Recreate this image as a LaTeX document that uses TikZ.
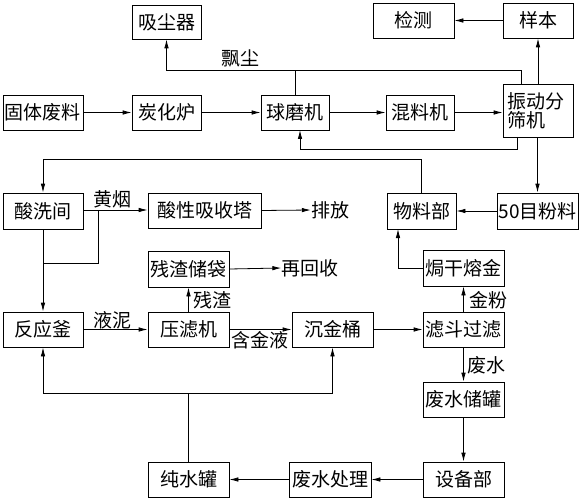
\documentclass[tikz,border=0pt]{standalone}
\usepackage{fontspec}
\setmainfont{Noto Sans CJK SC}
\usetikzlibrary{arrows.meta}
\begin{document}
\begin{tikzpicture}[x=1pt,y=-1pt,
  every node/.style={font=\fontsize{19}{22}\selectfont},
  box/.style={draw, line width=0.8pt, inner sep=0pt, minimum height=35pt},
  lbl/.style={inner sep=0pt},
  conn/.style={line width=0.8pt},
  arr/.style={conn, -{Latex[length=9pt,width=4.5pt]}}]
\useasboundingbox (0,0) rectangle (581,500);
% nodes
\node[box, minimum width=69pt, minimum height=34pt] (xc) at (166.5,22) {吸尘器};
\node[box, minimum width=81pt] (jc) at (413.5,20.5) {检测};
\node[box, minimum width=70pt] (yb) at (538,20.5) {样本};
\node[box, minimum width=80pt] (gt) at (43,112.5) {固体废料};
\node[box, minimum width=69pt] (th) at (166.5,112.5) {炭化炉};
\node[box, minimum width=68pt] (qm) at (295,112.5) {球磨机};
\node[box, minimum width=68pt] (hl) at (420,112.5) {混料机};
\node[box, minimum width=70pt, minimum height=53pt, align=left, text width=62pt] (zd) at (538,110.5) {振动分\\[-3pt]筛机};
\node[box, minimum width=80pt, minimum height=36pt] (sx) at (43,211) {酸洗间};
\node[box, minimum width=113pt] (sxt) at (204.5,210.5) {酸性吸收塔};
\node[lbl] (pf) at (330,210) {排放};
\node[box, minimum width=69pt, minimum height=36pt] (wl) at (421.5,211) {物料部};
\node[box, minimum width=81pt, minimum height=36pt] (mf) at (537.5,211) {50目粉料};
\node[box, minimum width=81pt, minimum height=36pt] (cz) at (188.5,269) {残渣储袋};
\node[lbl] (zh) at (310,268) {再回收};
\node[box, minimum width=81pt, minimum height=36pt] (hg) at (463.5,268) {焗干熔金};
\node[box, minimum width=80pt] (fy) at (43,329.5) {反应釜};
\node[box, minimum width=81pt] (yl) at (188.5,329.5) {压滤机};
\node[box, minimum width=81pt] (cj) at (332.5,329.5) {沉金桶};
\node[box, minimum width=81pt] (ld) at (463.5,329.5) {滤斗过滤};
\node[box, minimum width=81pt] (fs) at (463.5,399.5) {废水储罐};
\node[box, minimum width=81pt] (cs) at (188.5,479.5) {纯水罐};
\node[box, minimum width=82pt] (fc) at (330,479.5) {废水处理};
\node[box, minimum width=81pt] (sb) at (463.5,479.5) {设备部};
% labels
\node[lbl] (lpc) at (240,58) {飘尘};
\node[lbl] (lhy) at (112,199) {黄烟};
\node[lbl] (lyn) at (112,320) {液泥};
\node[lbl] (lcz) at (212,300) {残渣};
\node[lbl] (lhj) at (260,340) {含金液};
\node[lbl] (ljf) at (488,300) {金粉};
\node[lbl] (lfs) at (486,365) {废水};
% coordinates
\coordinate (zdA) at (521,84);
\coordinate (t70) at (521,70);
\coordinate (zdB) at (517,137);
\coordinate (b149) at (517,149);
\coordinate (qmB) at (300,130);
\coordinate (j98) at (98,210);
\coordinate (j263) at (98,263);
\coordinate (wlB) at (398,229);
\coordinate (j393) at (188.5,393);
% connectors
\draw[arr] (gt) -- (th);
\draw[arr] (th) -- (qm);
\draw[arr] (qm) -- (hl);
\draw[arr] (hl.east) -- (hl.east -| zd.west);
\draw[arr] (zd.north -| yb.south) -- (yb.south);
\draw[arr] (yb) -- (jc);
\draw[arr] (zdA) -- (t70) -| (xc.south);
\draw[conn] (qm.north) -- (qm.north |- t70);
\draw[arr] (zdB) -- (b149) -| (qmB);
\draw[arr] (zd.south -| mf.north) -- (mf.north);
\draw[arr] (mf) -- (wl);
\draw[arr] (wl.north) |- (43,159) -- (sx.north);
\draw[arr] (hg.west) -| (wlB);
\draw[arr] (ld.north) -- (hg.south);
\draw[arr] (sx.east |- j98) -- (sxt.west |- j98);
\draw[arr] (sxt.east) -- (pf.west);
\draw[arr] (sx.south) -- (fy.north);
\draw[conn] (j98) -- (j263) -- (j263 -| sx.south);
\draw[arr] (fy) -- (yl);
\draw[arr] (yl.north) -- (cz.south);
\draw[arr] (cz.east) -- (zh.west);
\draw[arr] (yl) -- (cj);
\draw[arr] (cj) -- (ld);
\draw[arr] (ld) -- (fs);
\draw[arr] (fs) -- (sb);
\draw[arr] (sb) -- (fc);
\draw[arr] (fc) -- (cs);
\draw[conn] (cs.north) -- (j393);
\draw[arr] (j393) -| (fy.south);
\draw[arr] (j393) -| (cj.south);
\end{tikzpicture}
\end{document}
